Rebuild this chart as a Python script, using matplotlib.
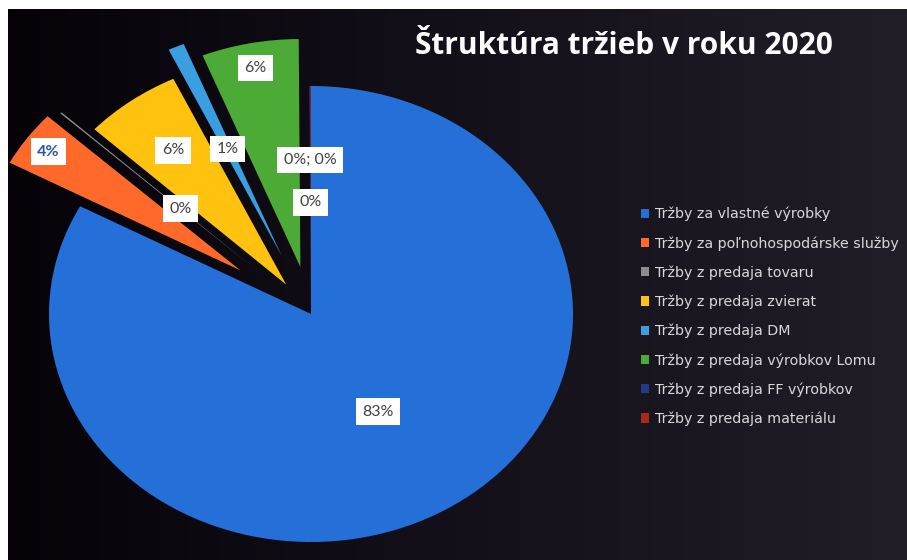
import numpy as np
import matplotlib
matplotlib.use("Agg")
import matplotlib.pyplot as plt
from matplotlib.colors import LinearSegmentedColormap

# ---- data ----
categories = [
    "Tržby za vlastné výrobky",
    "Tržby za poľnohospodárske služby",
    "Tržby z predaja tovaru",
    "Tržby z predaja zvierat",
    "Tržby z predaja DM",
    "Tržby z predaja výrobkov Lomu",
    "Tržby z predaja FF výrobkov",
    "Tržby z predaja materiálu",
]
shares = [83.0, 4.0, 0.1, 6.0, 1.0, 6.0, 0.05, 0.05]
value_labels = ["83%", "4%", "0%", "6%", "1%", "6%", "0%; 0%", "0%"]
title = "Štruktúra tržieb v roku 2020"

# ---- style ----
colors = ["#2470d8", "#ff6a2a", "#8c8c8c", "#ffc20e", "#3a9fe0", "#4caa36", "#22398a", "#a8281e"]
explode = [0.0, 0.33, 0.30, 0.16, 0.28, 0.21, 0.0, 0.0]
label_dist = [0.50, 1.23, 0.68, 0.89, 0.79, 1.10, 0.675, 0.49]
label_colors = ["#404040", "#2a55a8", "#404040", "#404040", "#404040", "#404040", "#404040", "#404040"]

W, H = 907, 560
fig = plt.figure(figsize=(W / 100, H / 100), dpi=100)
fig.patch.set_facecolor("white")

# dark background panel
bg = fig.add_axes([8 / W, 0, 1 - 8 / W, 551 / H])
cmap = LinearSegmentedColormap.from_list("bg", ["#050308", "#14101a", "#221e28"])
bg.imshow(np.tile(np.linspace(0, 1, 256), (2, 1)), aspect="auto", cmap=cmap,
          extent=[0, 1, 0, 1])
bg.set_axis_off()

# pie axes (elliptical, like the reference)
cx, cy, rx, ry = 311, 314, 262, 228
ax = fig.add_axes([(cx - rx) / W, (H - cy - ry) / H, 2 * rx / W, 2 * ry / H])
ax.set_axis_off()
ax.patch.set_alpha(0)

wedges, _ = ax.pie(shares, colors=colors, explode=explode, startangle=90,
                   counterclock=False, radius=1.0,
                   wedgeprops=dict(linewidth=0))
ax.set_aspect("auto")
ax.set_xlim(-1, 1)
ax.set_ylim(-1, 1)
for w in wedges:
    w.set_clip_on(False)

for w, txt, d, tc in zip(wedges, value_labels, label_dist, label_colors):
    mid = np.deg2rad((w.theta1 + w.theta2) / 2)
    ax.text(d * np.cos(mid), d * np.sin(mid), txt, ha="center", va="center",
            fontsize=11.5, color=tc, family="Lato",
            fontweight="bold" if txt == "4%" else "normal",
            bbox=dict(boxstyle="square,pad=0.4", fc="white", ec="none"),
            clip_on=False, zorder=5)

fig.text(624 / W, 1 - 46 / H, title, ha="center", va="center", fontsize=21.5,
         fontweight="bold", color="white", family="Open Sans")

leg = fig.legend(wedges, categories, loc="upper left",
                 bbox_to_anchor=(628 / W, 1 - 194 / H), frameon=False,
                 handlelength=0.6, handleheight=0.6, handletextpad=0.4,
                 labelspacing=1.03, prop=dict(family="DejaVu Sans", size=10.3))
for t in leg.get_texts():
    t.set_color("#d8d8d8")

fig.savefig("out.png", dpi=100, facecolor=fig.get_facecolor())
